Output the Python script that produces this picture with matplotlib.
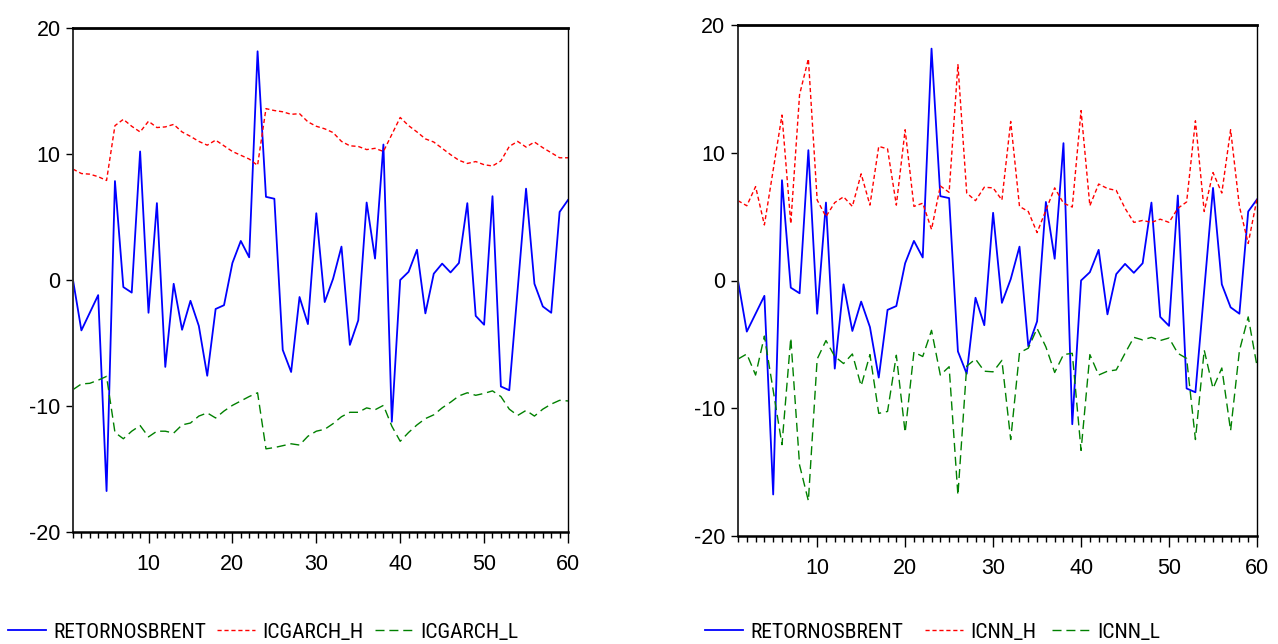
import matplotlib
matplotlib.use("Agg")
import matplotlib.pyplot as plt
from matplotlib import font_manager as fm
from matplotlib.font_manager import FontProperties
from matplotlib.textpath import TextPath
from matplotlib.ticker import FixedLocator, MultipleLocator

plt.rcParams["font.family"] = ["Liberation Sans", "DejaVu Sans"]
plt.rcParams["axes.unicode_minus"] = False

# Observation index
periods = list(range(1, 61))

# Brent returns (%)
retornos_brent = [0.0, -4.0, -2.6, -1.2, -16.75, 7.85, -0.56, -1.0, 10.2, -2.6,
                  6.1, -6.9, -0.3, -3.95, -1.65, -3.65, -7.6, -2.3, -2.0, 1.35,
                  3.1, 1.8, 18.15, 6.6, 6.45, -5.55, -7.3, -1.35, -3.5, 5.3,
                  -1.75, 0.1, 2.65, -5.15, -3.2, 6.15, 1.7, 10.75, -11.25, 0.0,
                  0.65, 2.4, -2.65, 0.5, 1.3, 0.6, 1.35, 6.1, -2.85, -3.55,
                  6.65, -8.45, -8.75, -0.75, 7.25, -0.3, -2.1, -2.6, 5.4, 6.35]

# GARCH confidence band
icgarch_h = [8.8, 8.45, 8.4, 8.2, 7.9, 12.25, 12.75, 12.2, 11.75, 12.6,
             12.1, 12.15, 12.35, 11.75, 11.4, 11.0, 10.7, 11.1, 10.65, 10.2,
             9.9, 9.6, 9.1, 13.6, 13.45, 13.35, 13.15, 13.2, 12.55, 12.2,
             12.0, 11.7, 11.0, 10.65, 10.6, 10.35, 10.45, 10.2, 11.55, 12.9,
             12.25, 11.75, 11.2, 10.95, 10.45, 9.95, 9.5, 9.25, 9.4, 9.15,
             9.05, 9.45, 10.6, 11.0, 10.55, 10.95, 10.5, 10.1, 9.7, 9.7]
icgarch_l = [-8.7, -8.25, -8.2, -7.95, -7.65, -12.1, -12.6, -12.0, -11.55, -12.45,
             -12.0, -12.0, -12.15, -11.5, -11.35, -10.8, -10.55, -10.95, -10.4, -9.95,
             -9.6, -9.25, -8.95, -13.4, -13.3, -13.15, -13.0, -13.1, -12.4, -12.0,
             -11.85, -11.4, -10.85, -10.5, -10.5, -10.15, -10.3, -9.95, -11.6, -12.8,
             -12.1, -11.5, -11.0, -10.7, -10.15, -9.7, -9.2, -8.95, -9.15, -9.0,
             -8.8, -9.25, -10.25, -10.75, -10.35, -10.8, -10.25, -9.85, -9.55, -9.6]

# Neural-network confidence band
icnn_h = [6.25, 5.85, 7.35, 4.35, 8.65, 12.95, 4.45, 14.55, 17.35, 6.3,
          5.0, 6.1, 6.55, 5.8, 8.35, 5.9, 10.5, 10.3, 5.9, 11.8,
          5.8, 6.05, 4.0, 7.4, 6.9, 16.9, 6.85, 6.25, 7.3, 7.25,
          6.3, 12.45, 5.8, 5.4, 3.75, 5.5, 7.25, 6.05, 5.75, 13.3,
          5.85, 7.55, 7.2, 7.05, 5.65, 4.55, 4.7, 4.55, 4.8, 4.55,
          5.65, 6.15, 12.5, 5.4, 8.45, 6.85, 11.8, 5.8, 2.9, 6.4]
icnn_l = [-6.15, -5.75, -7.4, -4.35, -8.6, -12.85, -4.5, -14.45, -17.25, -6.15,
          -4.7, -5.95, -6.5, -5.75, -8.25, -5.8, -10.4, -10.25, -5.85, -11.9,
          -5.6, -5.95, -3.9, -7.4, -6.75, -16.8, -6.7, -6.15, -7.1, -7.15,
          -6.25, -12.45, -5.65, -5.3, -3.75, -5.2, -7.2, -5.8, -5.7, -13.3,
          -5.8, -7.4, -7.1, -7.0, -5.7, -4.45, -4.65, -4.45, -4.7, -4.5,
          -5.7, -6.1, -12.45, -5.45, -8.45, -6.85, -11.75, -5.5, -2.85, -6.7]

x_major = [10, 20, 30, 40, 50, 60]
y_major = [-20, -10, 0, 10, 20]

W, H = 1278, 644
PX_PER_PT = 100 / 72


def narrow_legend_font():
    """Pick an upright sans face with tall, condensed proportions and size it
    so the longest label spans about 150 px."""
    families = ("Liberation Sans Narrow", "Liberation Sans", "Roboto",
                "Roboto Condensed", "Noto Sans", "Open Sans",
                "Open Sans Condensed", "DejaVu Sans", "DejaVu Sans Condensed")
    target_ratio = 20.0 / 149.0
    best = None
    for entry in fm.fontManager.ttflist:
        if entry.name not in families or entry.style != "normal":
            continue
        if entry.weight not in (400, "normal", "regular", "book"):
            continue
        prop = FontProperties(fname=entry.fname)
        try:
            width = TextPath((0, 0), "RETORNOSBRENT", size=100, prop=prop).get_extents().width
            cap = TextPath((0, 0), "E", size=100, prop=prop).get_extents().height
        except Exception:
            continue
        if width <= 0:
            continue
        score = abs(cap / width - target_ratio)
        if best is None or score < best[0]:
            best = (score, entry.fname, width)
    if best is None:
        return FontProperties(family="Liberation Sans", size=13.5)
    size_pt = 151.0 / (best[2] / 100.0) / PX_PER_PT
    return FontProperties(fname=best[1], size=size_pt)


legend_prop = narrow_legend_font()
em_px = legend_prop.get_size_in_points() * PX_PER_PT

fig = plt.figure(figsize=(W / 100, H / 100), dpi=100)
ax1 = fig.add_axes([73 / W, 1 - 532 / H, (568 - 73) / W, (532 - 28) / H])
ax2 = fig.add_axes([738 / W, 1 - 536 / H, (1257 - 738) / W, (536 - 25) / H])


def style_axes(ax):
    ax.set_xlim(1, 60)
    ax.set_ylim(-20, 20)
    ax.xaxis.set_major_locator(FixedLocator(x_major))
    ax.xaxis.set_minor_locator(MultipleLocator(1))
    ax.yaxis.set_major_locator(FixedLocator(y_major))
    ax.tick_params(axis="x", which="major", direction="out", length=8, width=1,
                   pad=7.5, labelsize=15.5)
    ax.tick_params(axis="x", which="minor", direction="out", length=4, width=1)
    ax.tick_params(axis="y", which="major", direction="out", length=5, width=1,
                   pad=4, labelsize=15.5)
    ax.spines["top"].set_linewidth(2.0)
    ax.spines["bottom"].set_linewidth(1.8)
    ax.spines["left"].set_linewidth(1.4)
    ax.spines["left"].set_color("#333333")
    ax.spines["right"].set_linewidth(1.0)


def draw_panel(ax, hi, lo, labels, key_x):
    l1, = ax.plot(periods, retornos_brent, color="#0000ff", lw=1.3)
    l2, = ax.plot(periods, hi, color="#ff0000", lw=1.0, dashes=(3.0, 2.0))
    l3, = ax.plot(periods, lo, color="#008000", lw=1.0, dashes=(6.5, 3.5))
    style_axes(ax)
    # one key entry per series, each starting at its own x position
    for line, label, x in zip((l1, l2, l3), labels, key_x):
        fig.legend([line], [label], loc="center left",
                   bbox_to_anchor=(x / W, 1 - 632 / H),
                   frameon=False, prop=legend_prop,
                   handlelength=38 / em_px, handletextpad=7 / em_px,
                   borderpad=0, borderaxespad=0)


draw_panel(ax1, icgarch_h, icgarch_l,
           ["RETORNOSBRENT", "ICGARCH_H", "ICGARCH_L"], (8, 217, 375))
draw_panel(ax2, icnn_h, icnn_l,
           ["RETORNOSBRENT", "ICNN_H", "ICNN_L"], (705, 925, 1052))

fig.savefig("out.png", dpi=100)
